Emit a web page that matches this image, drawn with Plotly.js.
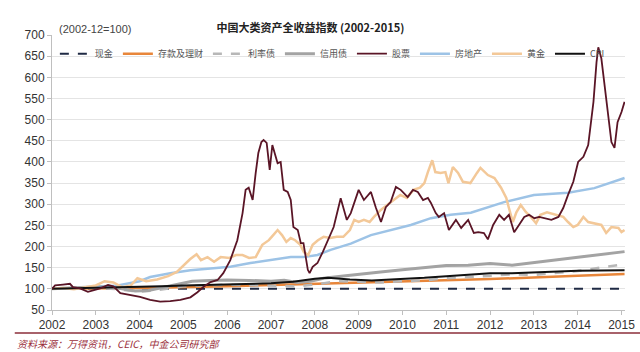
<!DOCTYPE html>
<html><head><meta charset="utf-8">
<script src="https://cdn.plot.ly/plotly-3.0.1.min.js"></script>
<style>html,body{margin:0;padding:0;background:#fff;}#chart{width:640px;height:352px;}</style>
</head><body><div id="chart"></div>
<script>
const seriesNames = ["现金","存款及理财","利率债","信用债","股票","房地产","黄金","CPI"];
const xTickYears = [2002,2003,2004,2005,2006,2007,2008,2009,2010,2011,2012,2013,2014,2015];
const yTicks = [50,100,150,200,250,300,350,400,450,500,550,600,650,700];

const cashX = [2002.0, 2015.07];
const cashY = [100, 100];

const depositX = [2002.0, 2004.0, 2006.0, 2008.0, 2010.0, 2012.0, 2014.0, 2015.07];
const depositY = [100, 102, 106, 112, 117, 123, 131, 135];

const rateX = [2002.0, 2003.0, 2003.6, 2004.0, 2004.4, 2005.0, 2006.0, 2007.0, 2007.6, 2008.0, 2008.5, 2009.0, 2009.5, 2010.0, 2010.5, 2011.0, 2011.5, 2012.0, 2012.5, 2013.0, 2013.5, 2014.0, 2014.5, 2015.07];
const rateY = [100, 103, 98, 93, 97, 106, 110, 108, 106, 110, 118, 117, 115, 118, 120, 125, 128, 132, 134, 133, 137, 142, 150, 158];

const creditX = [2002.0, 2002.5, 2003.0, 2003.3, 2003.6, 2003.9, 2004.2, 2004.5, 2004.8, 2005.2, 2005.6, 2006.0, 2006.5, 2007.0, 2007.3, 2007.6, 2007.9, 2008.2, 2008.6, 2009.0, 2009.5, 2010.0, 2010.5, 2011.0, 2011.5, 2012.0, 2012.5, 2013.0, 2013.5, 2014.0, 2014.5, 2015.07];
const creditY = [100, 102, 104, 106, 100, 95, 96, 103, 110, 118, 120, 121, 120, 118, 120, 115, 118, 125, 130, 135, 140, 145, 150, 155, 156, 160, 156, 162, 168, 175, 180, 188];

const stockX = [2002.00, 2002.07, 2002.25, 2002.41, 2002.48, 2002.64, 2002.82, 2002.94, 2003.10, 2003.28, 2003.40, 2003.56, 2003.78, 2004.01, 2004.24, 2004.47, 2004.70, 2004.93, 2005.16, 2005.32, 2005.46, 2005.62, 2005.78, 2005.91, 2006.07, 2006.23, 2006.35, 2006.42, 2006.49, 2006.58, 2006.65, 2006.71, 2006.78, 2006.83, 2006.90, 2006.97, 2007.03, 2007.08, 2007.15, 2007.22, 2007.29, 2007.38, 2007.45, 2007.51, 2007.61, 2007.68, 2007.74, 2007.84, 2007.88, 2007.95, 2008.06, 2008.18, 2008.29, 2008.43, 2008.59, 2008.73, 2008.82, 2009.00, 2009.12, 2009.28, 2009.39, 2009.51, 2009.62, 2009.73, 2009.85, 2009.96, 2010.12, 2010.24, 2010.35, 2010.47, 2010.58, 2010.65, 2010.76, 2010.83, 2010.95, 2011.06, 2011.22, 2011.34, 2011.50, 2011.63, 2011.73, 2011.86, 2011.95, 2012.07, 2012.21, 2012.32, 2012.43, 2012.55, 2012.66, 2012.78, 2012.89, 2013.01, 2013.12, 2013.24, 2013.40, 2013.56, 2013.67, 2013.78, 2013.90, 2014.01, 2014.13, 2014.24, 2014.36, 2014.43, 2014.47, 2014.54, 2014.61, 2014.70, 2014.77, 2014.84, 2014.91, 2015.00, 2015.07];
const stockY = [100, 108, 110, 112, 104, 101, 93, 97, 101, 109, 106, 90, 86, 81, 74, 70, 71, 74, 80, 92, 105, 116, 121, 137, 168, 215, 279, 334, 339, 310, 374, 421, 447, 452, 445, 381, 440, 421, 397, 400, 334, 329, 310, 246, 239, 208, 208, 145, 137, 152, 161, 187, 215, 246, 314, 263, 279, 334, 310, 329, 293, 258, 293, 305, 341, 334, 317, 334, 329, 310, 315, 303, 279, 270, 279, 239, 263, 244, 263, 232, 234, 232, 217, 251, 275, 263, 275, 234, 251, 270, 275, 267, 270, 267, 263, 270, 291, 322, 353, 400, 412, 440, 542, 636, 671, 645, 582, 504, 447, 433, 494, 518, 542];

const estateX = [2002.0, 2002.5, 2003.0, 2003.5, 2004.0, 2004.24, 2004.7, 2005.16, 2005.62, 2006.07, 2006.53, 2006.99, 2007.45, 2007.74, 2008.06, 2008.36, 2008.59, 2008.82, 2009.28, 2009.73, 2010.19, 2010.65, 2011.1, 2011.56, 2012.32, 2013.0, 2013.78, 2014.38, 2015.07];
const estateY = [100, 101, 104, 108, 118, 128, 137, 144, 148, 152, 161, 168, 175, 175, 180, 192, 199, 207, 227, 239, 251, 267, 275, 280, 305, 322, 327, 338, 362];

const goldX = [2002.0, 2002.25, 2002.5, 2002.75, 2003.0, 2003.2, 2003.4, 2003.6, 2003.8, 2003.95, 2004.15, 2004.4, 2004.65, 2004.85, 2005.0, 2005.15, 2005.3, 2005.4, 2005.55, 2005.7, 2005.85, 2006.05, 2006.2, 2006.35, 2006.5, 2006.65, 2006.8, 2006.95, 2007.05, 2007.15, 2007.25, 2007.35, 2007.45, 2007.55, 2007.67, 2007.75, 2007.85, 2007.95, 2008.07, 2008.2, 2008.35, 2008.5, 2008.65, 2008.8, 2008.9, 2009.0, 2009.12, 2009.25, 2009.35, 2009.5, 2009.65, 2009.8, 2009.95, 2010.1, 2010.25, 2010.4, 2010.5, 2010.58, 2010.68, 2010.75, 2010.87, 2010.98, 2011.05, 2011.15, 2011.27, 2011.38, 2011.55, 2011.7, 2011.78, 2011.95, 2012.1, 2012.25, 2012.37, 2012.43, 2012.52, 2012.6, 2012.7, 2012.82, 2012.93, 2013.05, 2013.15, 2013.3, 2013.5, 2013.67, 2013.78, 2013.9, 2014.0, 2014.13, 2014.24, 2014.38, 2014.54, 2014.65, 2014.77, 2014.93, 2015.0, 2015.07];
const goldY = [100, 102, 99, 103, 108, 118, 115, 104, 108, 125, 118, 122, 130, 140, 155, 170, 182, 168, 175, 164, 175, 173, 180, 180, 173, 175, 204, 215, 227, 239, 227, 211, 220, 215, 204, 187, 180, 204, 215, 223, 220, 223, 223, 239, 263, 258, 263, 258, 270, 286, 298, 310, 322, 315, 334, 339, 350, 376, 404, 376, 374, 376, 350, 388, 374, 353, 350, 374, 386, 369, 362, 339, 315, 291, 258, 281, 298, 281, 270, 255, 275, 281, 275, 270, 258, 246, 251, 270, 258, 255, 251, 232, 246, 244, 234, 239];

const cpiX = [2002.0, 2003.0, 2003.5, 2004.0, 2004.5, 2005.0, 2006.0, 2007.0, 2007.5, 2008.0, 2008.3, 2008.8, 2009.3, 2010.0, 2010.5, 2011.0, 2011.5, 2012.0, 2012.5, 2013.0, 2013.5, 2014.0, 2015.07];
const cpiY = [100, 102, 103, 104, 106, 108, 110, 113, 117, 124, 126, 122, 120, 123, 126, 130, 134, 137, 137, 139, 141, 143, 144];

const colors = {cash:"#1f2a44", deposit:"#e8863a", rate:"#b7b7b7", credit:"#a3a3a3", stock:"#5a1526", estate:"#9dc3e6", gold:"#f3c898", cpi:"#111111"};

function tr(name, x, y, color, width, dash, rank){
  return {type:"scatter", mode:"lines", name:name, x:x, y:y, legendrank:rank,
    line:{color:color, width:width, dash:dash||"solid"}, hoverinfo:"skip"};
}
const data = [
  tr(seriesNames[0], cashX, cashY, colors.cash, 2, "dash", 1),
  tr(seriesNames[1], depositX, depositY, colors.deposit, 2.5, "solid", 2),
  tr(seriesNames[2], rateX, rateY, colors.rate, 2.5, "dash", 3),
  tr(seriesNames[3], creditX, creditY, colors.credit, 3, "solid", 4),
  tr(seriesNames[5], estateX, estateY, colors.estate, 2.5, "solid", 6),
  tr(seriesNames[6], goldX, goldY, colors.gold, 2.5, "solid", 7),
  tr(seriesNames[7], cpiX, cpiY, colors.cpi, 2, "solid", 8),
  tr(seriesNames[4], stockX, stockY, colors.stock, 1.8, "solid", 5)
];

const layout = {
  width:640, height:352,
  margin:{l:52, r:15, t:35, b:42},
  paper_bgcolor:"#fff", plot_bgcolor:"#fff",
  font:{family:"'Liberation Sans Narrow', 'Liberation Sans', Arial, sans-serif", color:"#333", size:12},
  showlegend:true,
  legend:{orientation:"h", x:0.005, y:0.985, xanchor:"left", yanchor:"top",
    font:{family:"'Noto Sans CJK SC', 'Liberation Sans Narrow', sans-serif", size:9, color:"#555"},
    bgcolor:"rgba(255,255,255,0)", traceorder:"normal", tracegroupgap:0, itemwidth:30},
  xaxis:{range:[2002, 2015.08], tickmode:"array", tickvals:xTickYears, ticktext:xTickYears.map(String),
    showgrid:false, zeroline:false, showline:true, linecolor:"#bfbfbf", linewidth:1,
    ticks:"outside", ticklen:4, tickcolor:"#bfbfbf", tickfont:{size:12, color:"#333"}},
  yaxis:{range:[50, 700], tickmode:"array", tickvals:yTicks, ticktext:yTicks.map(String),
    showgrid:true, gridcolor:"#e4e4e4", gridwidth:1, zeroline:false, showline:true, linecolor:"#bfbfbf", linewidth:1,
    ticks:"outside", ticklen:4, tickcolor:"#bfbfbf", tickfont:{size:12, color:"#333"}},
  title:{text:"<b>中国大类资产全收益指数 (2002-2015)</b>", x:0.485, xanchor:"center", y:0.92, yanchor:"middle",
    font:{family:"'Noto Sans CJK SC', 'Liberation Sans', sans-serif", size:11, color:"#222"}},
  annotations:[
    {text:"(2002-12=100)", xref:"paper", yref:"paper", x:0.008, y:1.022, xanchor:"left", yanchor:"middle", showarrow:false,
     font:{family:"'Liberation Sans Narrow', 'Liberation Sans', sans-serif", size:11, color:"#444"}},
    {text:"<i>资料来源：万得资讯，CEIC，中金公司研究部</i>", xref:"paper", yref:"paper", x:-0.065, y:-0.12, xanchor:"left", yanchor:"middle", showarrow:false,
     font:{family:"'Noto Sans CJK SC', sans-serif", size:10, color:"#9b2f3c"}}
  ],
  shapes:[
    {type:"line", xref:"paper", yref:"paper", x0:-0.065, x1:1.03, y0:-0.084, y1:-0.084, line:{color:"#8b2e3a", width:1.5}}
  ]
};
Plotly.newPlot("chart", data, layout, {displayModeBar:false, staticPlot:true});
</script></body></html>
